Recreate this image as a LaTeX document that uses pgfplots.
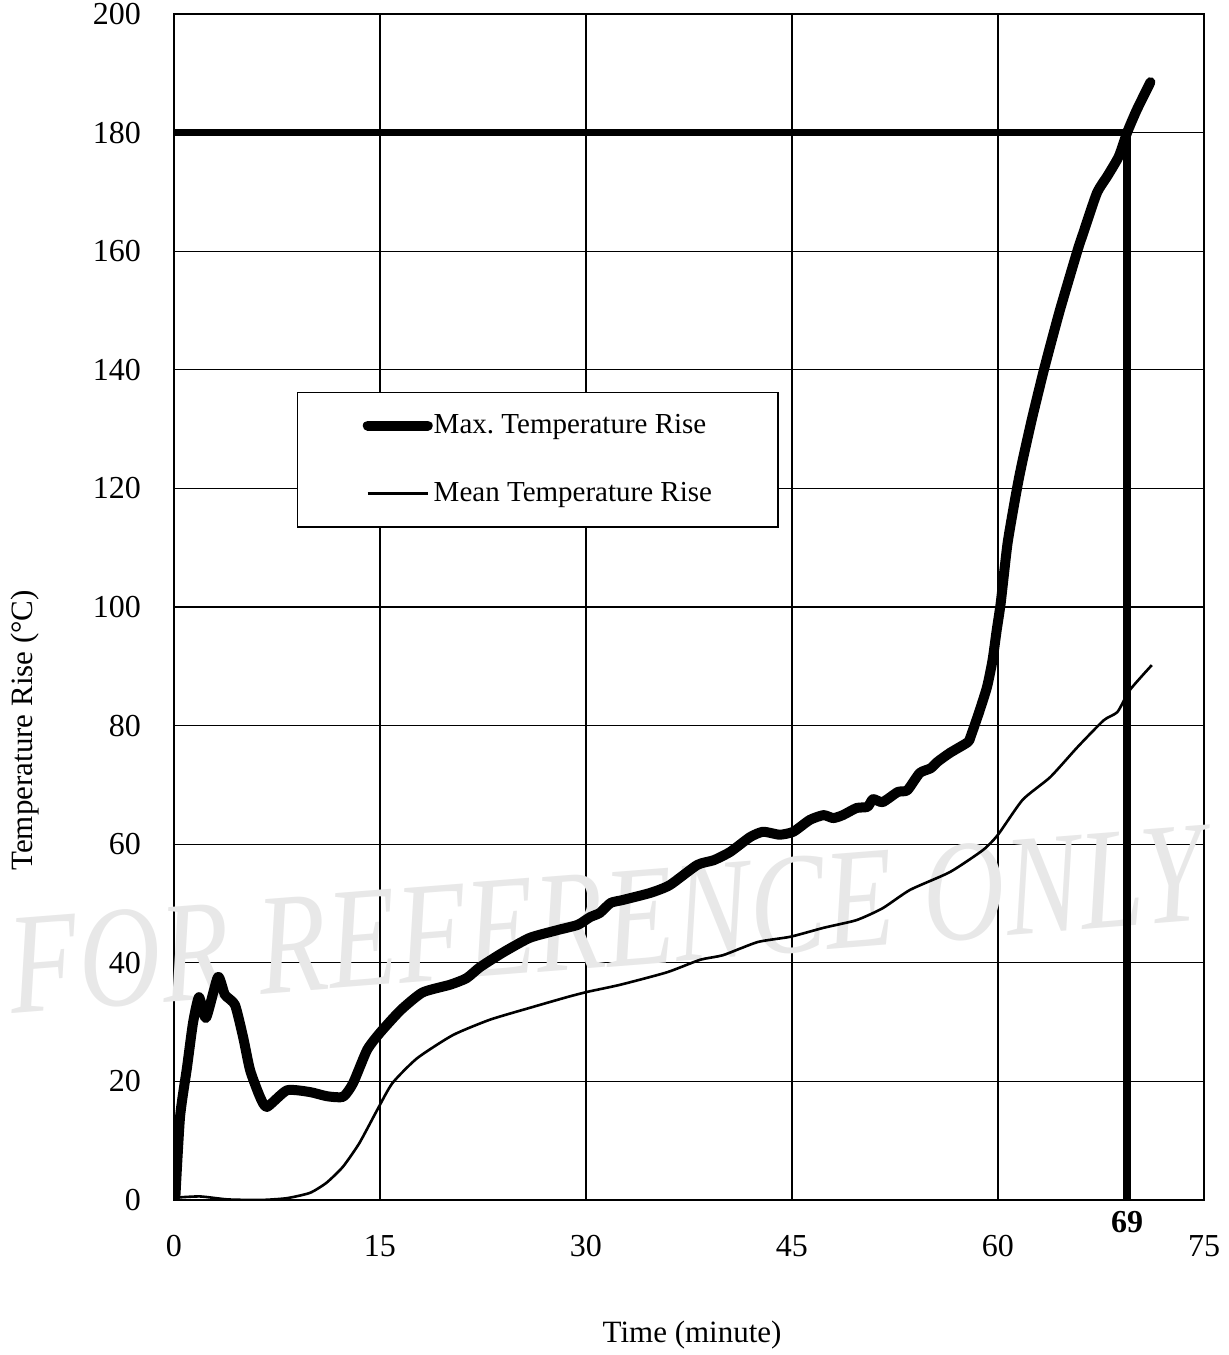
\documentclass[border=0pt]{standalone}
\usepackage{fontspec}
\setmainfont{Liberation Serif}
\usepackage{graphicx}
\usepackage{pgfplots}
\pgfplotsset{compat=1.18}

\begin{document}
\begin{tikzpicture}[font=\fontsize{15}{18}\selectfont]
\useasboundingbox (0,0) rectangle (614pt,677.5pt);
\begin{axis}[
  at={(87pt,77.5pt)}, anchor=south west,
  scale only axis, width=515pt, height=593pt,
  xmin=0, xmax=75, ymin=0, ymax=200,
  xtick={0,15,...,75}, ytick={0,20,...,200},
  grid=major, grid style={black, line width=0.6pt},
  axis line style={line width=0.9pt},
  tick style={draw=none},
  /pgf/number format/assume math mode=true,
  every tick label/.append style={font=\fontsize{16}{19}\selectfont},
  xticklabel style={yshift=-14pt},
  yticklabel style={xshift=-13pt},
  xlabel={Time (minute)},
  ylabel={Temperature Rise (°C)},
  label style={font=\fontsize{15.5}{18}\selectfont},
  xlabel style={at={(rel axis cs:0.503,-0.114)}, anchor=center},
  ylabel style={at={(rel axis cs:-0.1447,0.396)}, anchor=center},
  clip mode=individual,
  legend style={at={(axis cs:8.96,136.3)}, anchor=north west,
    draw=black, line width=0.7pt, fill=white,
    inner xsep=32.5pt, inner ysep=9pt, row sep=19pt,
    font=\fontsize{14.5}{17}\selectfont,
    nodes={inner xsep=0.5pt, inner ysep=2pt}},
  legend cell align=left,
  legend image code/.code={\draw[#1] (0pt,0pt) -- (30pt,0pt);},
]
% watermark
\node[text=gray!18, rotate=4.5, anchor=center] at (axis cs:31.5,47.2)
  {\scalebox{0.79}[1]{\fontsize{72}{72}\selectfont\itshape FOR REFERENCE ONLY}};

\addplot[black, line width=5pt, line join=round, line cap=round, smooth, tension=0.35] coordinates {
(0.1,0.5) (0.44,14.0) (0.95,22.4) (1.38,29.8) (1.82,34.2) (2.33,30.7) (3.2,37.6)
(3.71,34.6) (4.44,32.9) (5.03,27.5) (5.54,21.9) (6.26,17.4) (6.77,15.7) (8.23,18.5)
(9.9,18.2) (11.14,17.5) (12.31,17.4) (13.04,19.7) (14.06,25.3) (15.0,28.2) (16.5,32.0)
(18.1,35.0) (20.1,36.3) (21.3,37.4) (22.3,39.3) (24.0,41.8) (25.9,44.2) (27.9,45.5)
(29.4,46.4) (30.3,47.7) (31.0,48.4) (31.8,50.1) (32.7,50.6) (34.7,51.8) (36.1,53.1)
(38.1,56.5) (39.3,57.3) (40.5,58.7) (41.95,61.2) (42.9,62.1) (44.1,61.6) (45.1,62.1)
(46.3,64.1) (47.3,64.9) (48.0,64.4) (48.7,64.9) (49.7,66.1) (50.5,66.3) (50.9,67.6)
(51.6,67.1) (52.7,68.8) (53.4,69.1) (54.3,72.0) (55.1,72.8) (55.6,73.9) (56.5,75.4)
(57.8,77.2) (58.0,78.1) (58.6,82.1) (59.2,86.5) (59.6,91.0) (59.9,96.0) (60.2,100.7)
(60.7,110.8) (61.4,120.2) (61.8,124.8) (62.5,132.0) (63.4,140.5) (64.5,150.0)
(65.8,160.2) (66.2,163.0) (67.2,169.8) (68.0,172.8) (68.8,176.0) (69.4,180.0)
(70.1,183.8) (71.1,188.5)
};
\addlegendentry{Max.\ Temperature Rise}

\addplot[black, line width=1.3pt, line join=round, smooth, tension=0.35] coordinates {
(0.1,0.4) (1.9,0.6) (3.9,0.1) (6.3,0.0) (8.2,0.3) (9.9,1.2) (11.1,2.9) (12.3,5.6)
(13.5,9.6) (14.8,15.2) (15.9,19.7) (17.7,23.9) (20.3,27.8) (23.0,30.4) (25.9,32.4)
(28.6,34.2) (30.1,35.1) (32.5,36.3) (35.9,38.4) (38.3,40.5) (40.0,41.3) (42.5,43.5)
(44.9,44.4) (47.3,45.9) (49.7,47.2) (51.6,49.2) (53.6,52.3) (56.5,55.3) (58.9,59.0)
(60.0,61.6) (61.8,67.5) (63.8,71.3) (65.8,76.4) (67.7,80.9) (68.7,82.3) (69.6,86.0)
(71.2,90.2)
};
\addlegendentry{Mean Temperature Rise}

% 180 limit and 69 minute marker
\addplot[black, line width=3.7pt, forget plot] coordinates {(0,180) (69.4,180) (69.4,0)};
\node[font=\bfseries\fontsize{16}{19}\selectfont, yshift=-11pt] at (axis cs:69.4,0) {69};
\end{axis}
\end{tikzpicture}
\end{document}
